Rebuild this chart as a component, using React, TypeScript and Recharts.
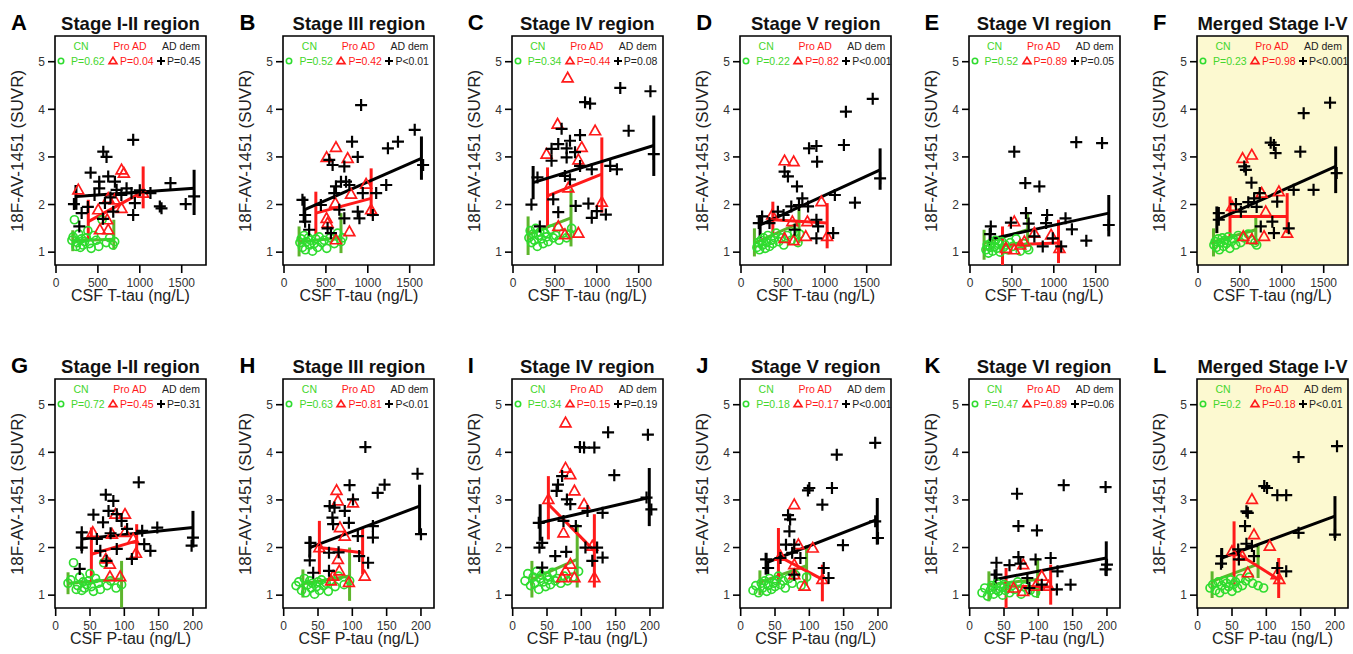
import React from 'react';
import { ScatterChart, Scatter, XAxis, YAxis, ReferenceLine, ReferenceArea, CartesianGrid } from 'recharts';

type P = [number, number];
type Fit = [number, number, number, number, number, number, number, number];

// ---------- shared CN x values (same subjects in all regions) ----------
const cnTtauX = [190, 205, 220, 240, 255, 270, 290, 305, 320, 340, 360, 380, 400, 420, 450, 480, 510, 550, 600, 640, 680, 700];
const cnPtauX = [18, 22, 26, 30, 32, 35, 38, 40, 42, 45, 48, 50, 52, 55, 58, 62, 65, 70, 75, 80, 88, 96];

// CN SUVR per region
const cnY_I_II = [1.25, 1.32, 1.68, 1.12, 1.2, 1.38, 1.1, 1.28, 1.15, 1.22, 1.3, 1.45, 1.18, 1.08, 1.35, 1.25, 1.12, 1.68, 1.2, 1.3, 1.15, 1.22];
const cnY_III = [1.2, 1.28, 1.1, 1.35, 1.05, 1.22, 1.3, 1.15, 1.25, 1.02, 1.18, 1.28, 1.1, 1.32, 1.2, 1.25, 1.08, 1.3, 1.18, 1.4, 1.22, 1.3];
const cnY_IV = [1.3, 1.45, 1.2, 1.38, 1.25, 1.5, 1.12, 1.35, 1.42, 1.28, 1.18, 1.4, 1.32, 1.22, 1.48, 1.3, 1.35, 1.25, 1.4, 1.3, 1.38, 1.5];
const cnY_V = [1.1, 1.2, 1.05, 1.25, 1.15, 1.3, 1.08, 1.2, 1.35, 1.12, 1.25, 1.18, 1.3, 1.4, 1.22, 1.3, 1.15, 1.35, 1.25, 1.42, 1.2, 1.38];
const cnY_VI = [1.05, 1.15, 0.98, 1.1, 1.2, 1.02, 1.12, 1.25, 1.08, 1.18, 1.0, 1.22, 1.1, 1.15, 1.05, 1.2, 1.12, 1.28, 1.02, 1.18, 1.1, 1.05];
const cnY_Merged = [1.15, 1.22, 1.1, 1.28, 1.05, 1.2, 1.3, 1.12, 1.25, 1.18, 1.32, 1.08, 1.22, 1.28, 1.15, 1.35, 1.2, 1.3, 1.38, 1.25, 1.2, 1.15];

// ---------- T-tau panels ----------
const A_ad: P[] = [[921,3.36],[564,3.11],[603,3.0],[413,2.67],[516,2.48],[623,2.59],[703,2.48],[516,2.34],[723,2.31],[214,2.01],[306,1.82],[278,1.54],[842,2.34],[901,2.24],[941,2.03],[921,1.78],[1127,2.24],[1239,1.96],[1259,1.92],[1366,2.45],[1548,2.01],[1648,2.17],[683,1.85],[584,2.03],[460,2.2],[650,2.15],[780,2.2],[1000,2.3],[380,1.95],[560,1.7]];
const A_pro: P[] = [[266,2.31],[782,2.73],[810,2.66],[623,2.13],[782,1.92],[504,1.89],[611,1.68],[524,1.47],[623,1.47],[1040,2.24],[700,2.1]];
const A_fitCN: Fit = [200,1.24,1.02,1.46, 690,1.27,1.05,1.68];
const A_fitPro: Fit = [385,1.64,1.26,2.10, 1040,2.27,1.92,2.8];
const A_fitAD: Fit = [238,2.17,1.89,2.41, 1648,2.34,1.78,2.73];

const B_ad: P[] = [[920,4.09],[1560,3.57],[1360,3.32],[1240,3.18],[1660,2.83],[812,3.32],[880,3.0],[540,2.94],[580,2.83],[720,2.8],[680,2.48],[740,2.48],[780,2.41],[620,2.38],[600,2.24],[940,2.24],[1100,2.24],[1220,2.41],[220,2.1],[252,1.78],[252,1.64],[440,1.99],[660,1.89],[880,1.85],[900,1.71],[1060,1.78],[720,1.71],[520,1.5],[300,1.47],[560,1.4]];
const B_pro: P[] = [[620,3.2],[508,2.99],[760,2.97],[980,2.43],[800,2.22],[612,2.03],[508,1.71],[520,1.61],[1040,1.89],[780,1.43],[620,1.26]];
const B_fitCN: Fit = [180,1.22,0.91,1.54, 680,1.3,0.98,1.82];
const B_fitPro: Fit = [380,1.82,1.33,2.27, 1040,2.13,1.75,2.76];
const B_fitAD: Fit = [240,1.89,1.61,2.17, 1640,2.97,2.52,3.43];

const C_ad: P[] = [[1280,4.45],[1640,4.38],[1380,3.55],[860,4.15],[920,4.12],[580,3.59],[680,3.34],[540,3.27],[460,3.17],[640,3.18],[740,3.1],[800,3.46],[640,2.99],[460,2.92],[800,2.81],[940,2.74],[1160,2.81],[1240,2.74],[1680,3.06],[620,2.6],[680,2.53],[292,2.57],[220,2.0],[480,2.11],[540,1.84],[748,1.97],[900,2.02],[940,1.72],[1000,1.86],[1108,1.79],[320,1.54]];
const C_pro: P[] = [[652,4.66],[532,3.69],[980,3.55],[820,3.2],[400,3.06],[780,2.94],[660,2.35],[1060,2.05],[540,1.54],[620,1.37],[780,1.4]];
const C_fitCN: Fit = [180,1.37,0.94,1.75, 692,1.72,1.12,2.32];
const C_fitPro: Fit = [412,2.18,1.51,2.78, 1060,2.64,1.83,3.41];
const C_fitAD: Fit = [240,2.46,2.11,2.81, 1680,3.24,2.6,3.87];

const D_ad: P[] = [[1572,4.22],[1252,3.95],[1228,3.25],[812,3.18],[900,3.23],[908,2.9],[520,2.69],[560,2.59],[668,2.38],[1120,2.2],[1360,2.04],[1660,2.55],[732,2.13],[692,1.99],[600,1.96],[800,1.96],[252,1.75],[212,1.61],[440,1.85],[508,1.78],[340,1.61],[900,1.68],[920,1.54],[900,1.29],[1100,1.4],[640,1.47]];
const D_pro: P[] = [[520,2.92],[628,2.9],[960,2.06],[372,1.78],[612,1.64],[792,1.64],[772,1.33],[520,1.29],[628,1.24],[1028,1.33]];
const D_fitCN: Fit = [160,1.19,0.91,1.5, 692,1.61,1.19,1.92];
const D_fitPro: Fit = [380,1.68,1.33,2.06, 1028,1.61,1.08,2.03];
const D_fitAD: Fit = [228,1.57,1.29,1.78, 1660,2.73,2.31,3.18];

const E_ad: P[] = [[528,3.11],[1268,3.31],[1576,3.29],[660,2.45],[828,2.38],[668,1.82],[920,1.78],[1140,1.71],[908,1.61],[1216,1.48],[1388,1.24],[1656,1.57],[248,1.54],[240,1.38],[488,1.62],[768,1.33],[988,1.29],[1088,1.12],[868,1.12],[700,1.6]];
const E_pro: P[] = [[528,1.64],[768,1.4],[968,1.36],[1068,1.08],[428,1.08],[528,1.05],[648,1.22],[600,1.15]];
const E_fitCN: Fit = [168,1.19,0.84,1.47, 688,1.47,1.12,1.82];
const E_fitPro: Fit = [388,1.15,0.70,1.54, 1056,1.19,0.77,1.68];
const E_fitAD: Fit = [240,1.27,1.05,1.5, 1656,1.82,1.33,2.2];

const F_ad: P[] = [[1576,4.14],[1261,3.92],[867,3.3],[906,3.25],[926,3.08],[1221,3.11],[552,2.8],[571,2.73],[638,2.46],[737,2.24],[1142,2.31],[1379,2.31],[1655,2.66],[945,2.06],[670,2.13],[453,2.01],[248,1.82],[248,1.68],[512,1.85],[749,1.54],[887,1.64],[906,1.4],[1083,1.5],[600,2.05],[700,1.95]];
const F_pro: P[] = [[532,2.97],[642,3.04],[760,2.24],[965,2.27],[406,1.96],[808,1.85],[540,1.33],[642,1.27],[788,1.33],[1064,1.4]];
const F_fitCN: Fit = [185,1.22,0.91,1.5, 690,1.47,1.15,1.75];
const F_fitPro: Fit = [382,1.75,1.33,2.17, 1064,1.75,1.4,2.24];
const F_fitAD: Fit = [225,1.68,1.4,1.96, 1643,2.8,2.24,3.22];

// ---------- P-tau panels ----------
const G_ad: P[] = [[121,3.37],[73,3.11],[84,2.98],[55,2.69],[77,2.77],[89,2.7],[69,2.53],[96,2.56],[148,2.42],[104,2.39],[38,2.32],[126,2.35],[60,2.18],[38,2.0],[65,1.93],[89,1.97],[111,1.76],[138,1.93],[129,2.07],[200,2.21],[198,2.04],[35,1.55],[74,1.72],[80,2.3]];
const G_pro: P[] = [[87,2.7],[101,2.7],[54,2.32],[82,2.28],[101,2.32],[113,2.18],[117,1.88],[73,1.76],[79,1.65],[79,1.39],[94,1.39]];
const G_fitCN: Fit = [18,1.25,1.02,1.48, 96,1.34,0.74,1.72];
const G_fitPro: Fit = [52,1.86,1.23,2.42, 118,2.14,1.79,2.49];
const G_fitAD: Fit = [38,2.18,1.93,2.35, 200,2.42,2.0,2.77];

const H_ad: P[] = [[119,4.11],[195,3.55],[147,3.32],[137,3.15],[96,3.31],[101,3.01],[67,2.87],[74,2.84],[89,2.77],[71,2.63],[72,2.49],[95,2.52],[108,2.24],[130,2.45],[130,2.21],[200,2.28],[39,2.1],[38,1.73],[66,1.89],[66,1.51],[110,1.82],[123,1.68],[43,1.47],[80,1.9]];
const H_pro: P[] = [[77,3.2],[79,2.98],[101,2.94],[82,2.42],[89,2.24],[79,1.75],[81,1.51],[118,1.4],[72,1.4],[69,1.3],[95,1.27],[52,2.0]];
const H_fitCN: Fit = [28,1.24,0.95,1.54, 96,1.4,0.88,2.0];
const H_fitPro: Fit = [52,2.0,1.44,2.56, 115,1.89,1.44,2.42];
const H_fitAD: Fit = [38,2.0,1.79,2.24, 198,2.87,2.28,3.32];

const I_ad: P[] = [[139,4.42],[197,4.37],[98,4.11],[104,4.1],[119,4.1],[148,3.52],[72,3.5],[66,3.32],[64,3.19],[79,3.01],[84,2.91],[195,3.05],[202,2.8],[109,2.77],[131,2.73],[74,2.56],[92,2.45],[38,2.52],[43,2.1],[39,2.0],[62,1.82],[78,1.91],[106,2.0],[123,2.0],[131,1.79],[116,1.72],[43,1.58]];
const I_pro: P[] = [[77,4.62],[77,3.67],[84,3.53],[90,3.19],[104,2.91],[52,3.01],[74,2.31],[116,2.03],[84,1.65],[77,1.51],[72,1.37],[90,1.37],[119,1.37]];
const I_fitCN: Fit = [28,1.33,0.95,1.72, 94,1.75,1.16,2.49];
const I_fitPro: Fit = [52,2.91,2.17,3.5, 119,1.93,1.16,2.7];
const I_fitAD: Fit = [40,2.52,2.14,2.91, 199,3.05,2.45,3.67];

const J_ad: P[] = [[196,4.2],[140,3.95],[100,3.25],[98,3.2],[133,3.25],[119,2.9],[69,2.68],[72,2.59],[71,2.34],[196,2.55],[200,2.2],[149,2.05],[66,2.06],[78,2.06],[37,1.75],[40,1.57],[58,1.78],[75,1.89],[87,1.78],[121,1.57],[128,1.36],[78,1.43]];
const J_pro: P[] = [[78,2.9],[84,2.06],[105,1.99],[58,1.82],[78,1.64],[119,1.33],[78,1.43],[93,1.19]];
const J_fitCN: Fit = [28,1.27,1.0,1.52, 96,1.62,1.2,2.05];
const J_fitPro: Fit = [55,1.82,1.22,2.41, 119,1.33,0.87,1.64];
const J_fitAD: Fit = [37,1.68,1.43,1.89, 199,2.59,2.06,3.04];

const K_ad: P[] = [[69,3.13],[137,3.31],[198,3.27],[71,2.45],[98,2.36],[71,1.8],[74,1.66],[96,1.75],[118,1.78],[128,1.5],[147,1.22],[200,1.64],[198,1.54],[39,1.68],[39,1.43],[58,1.63],[84,1.36],[105,1.22],[127,1.12],[87,1.15]];
const K_pro: P[] = [[78,1.64],[105,1.4],[115,1.19],[78,1.08],[96,1.19],[64,1.15]];
const K_fitCN: Fit = [28,1.22,0.87,1.5, 99,1.33,0.94,1.78];
const K_fitPro: Fit = [53,1.19,0.7,1.57, 118,1.17,0.8,1.64];
const K_fitAD: Fit = [37,1.33,1.08,1.54, 199,1.78,1.4,2.13];

const L_ad: P[] = [[203,4.13],[147,3.9],[97,3.29],[101,3.25],[116,3.1],[129,3.1],[71,2.76],[73,2.73],[69,2.45],[200,2.27],[147,2.31],[35,1.82],[34,1.66],[71,2.08],[79,2.03],[59,1.96],[82,1.82],[116,1.57],[129,1.5],[60,1.75]];
const L_pro: P[] = [[79,3.01],[82,2.27],[105,2.03],[50,1.92],[65,1.82],[73,1.47],[115,1.43],[119,1.33]];
const L_fitCN: Fit = [21,1.29,0.94,1.5, 88,1.65,1.36,2.06];
const L_fitPro: Fit = [53,1.92,1.22,2.55, 118,1.33,0.94,1.78];
const L_fitAD: Fit = [35,1.78,1.57,1.99, 200,2.66,2.2,3.08];

// ---------- labels ----------
const letters = ['A', 'B', 'C', 'D', 'E', 'F', 'G', 'H', 'I', 'J', 'K', 'L'];
const titles = ['Stage I-II region', 'Stage III region', 'Stage IV region', 'Stage V region', 'Stage VI region', 'Merged Stage I-V'];
const pCN = ['P=0.62', 'P=0.52', 'P=0.34', 'P=0.22', 'P=0.52', 'P=0.23', 'P=0.72', 'P=0.63', 'P=0.34', 'P=0.18', 'P=0.47', 'P=0.2'];
const pPro = ['P=0.04', 'P=0.42', 'P=0.44', 'P=0.82', 'P=0.89', 'P=0.98', 'P=0.45', 'P=0.81', 'P=0.15', 'P=0.17', 'P=0.89', 'P=0.18'];
const pAD = ['P=0.45', 'P<0.01', 'P=0.08', 'P<0.001', 'P=0.05', 'P<0.001', 'P=0.31', 'P<0.01', 'P=0.19', 'P<0.001', 'P=0.06', 'P<0.01'];
const tTauTicks = [0, 500, 1000, 1500];
const pTauTicks = [0, 50, 100, 150, 200];
const yTicks = [1, 2, 3, 4, 5];

const cnYByRegion = [cnY_I_II, cnY_III, cnY_IV, cnY_V, cnY_VI, cnY_Merged];
const adSets = [A_ad, B_ad, C_ad, D_ad, E_ad, F_ad, G_ad, H_ad, I_ad, J_ad, K_ad, L_ad];
const proSets = [A_pro, B_pro, C_pro, D_pro, E_pro, F_pro, G_pro, H_pro, I_pro, J_pro, K_pro, L_pro];
const fitCNs = [A_fitCN, B_fitCN, C_fitCN, D_fitCN, E_fitCN, F_fitCN, G_fitCN, H_fitCN, I_fitCN, J_fitCN, K_fitCN, L_fitCN];
const fitPros = [A_fitPro, B_fitPro, C_fitPro, D_fitPro, E_fitPro, F_fitPro, G_fitPro, H_fitPro, I_fitPro, J_fitPro, K_fitPro, L_fitPro];
const fitADs = [A_fitAD, B_fitAD, C_fitAD, D_fitAD, E_fitAD, F_fitAD, G_fitAD, H_fitAD, I_fitAD, J_fitAD, K_fitAD, L_fitAD];

// ---------- style ----------
const FONT = '"Liberation Sans", Arial, Helvetica, sans-serif';
const GREEN = '#2fdc2f';
const GREEN_TXT = '#45d62d';
const GREEN_LINE = '#5db52c';
const RED = '#ff1a1a';
const BLACK = '#000000';
const MERGED_BG = '#fcf9d0';
const PANEL_DX = 228.4;
const ROW_DY = 343;
const FRAME_L = 55;
const FRAME_T = 36;
const FRAME_W = 151;
const FRAME_H = 229;
const Y_DOMAIN: [number, number] = [0.73, 5.54];

const CircleShape = (p: any) => (
  <circle cx={p.cx} cy={p.cy} r={4} fill="none" stroke={GREEN} strokeWidth={1.7} />
);
const TriShape = (p: any) => (
  <polygon
    points={`${p.cx},${p.cy - 5.6} ${p.cx - 5.4},${p.cy + 4} ${p.cx + 5.4},${p.cy + 4}`}
    fill="none"
    stroke={RED}
    strokeWidth={1.7}
  />
);
const PlusShape = (p: any) => (
  <path
    d={`M${p.cx - 6},${p.cy}H${p.cx + 6}M${p.cx},${p.cy - 6}V${p.cy + 6}`}
    stroke={BLACK}
    strokeWidth={2.2}
    fill="none"
  />
);

function fitLines(f: Fit, color: string, key: string) {
  const [x0, y0, l0, h0, x1, y1, l1, h1] = f;
  const common = { stroke: color, strokeWidth: 3, ifOverflow: 'hidden' as const };
  return [
    <ReferenceLine key={key + 'm'} segment={[{ x: x0, y: y0 }, { x: x1, y: y1 }]} {...common} />,
    <ReferenceLine key={key + 'a'} segment={[{ x: x0, y: l0 }, { x: x0, y: h0 }]} {...common} />,
    <ReferenceLine key={key + 'b'} segment={[{ x: x1, y: l1 }, { x: x1, y: h1 }]} {...common} />,
  ];
}

const toPts = (arr: P[]) => arr.map(([x, y]) => ({ x, y }));

function Panel({ idx }: { idx: number }) {
  const row = idx < 6 ? 0 : 1;
  const col = idx % 6;
  const isT = row === 0;
  const merged = col === 5;
  const xDomain: [number, number] = isT ? [-12, 1790] : [-1, 219];
  const cnX = isT ? cnTtauX : cnPtauX;
  const cnY = cnYByRegion[col];
  const cnPts = cnX.map((x, i) => ({ x, y: cnY[i] }));
  const left = col * PANEL_DX;
  const top = row * ROW_DY;
  const fcx = FRAME_L + FRAME_W / 2;
  const legendTextStyle: React.CSSProperties = {
    position: 'absolute',
    fontSize: 10.5,
    lineHeight: '11px',
    whiteSpace: 'nowrap',
    fontFamily: FONT,
  };
  return (
    <div style={{ position: 'absolute', left, top, width: 228, height: 320 }}>
      <div style={{ position: 'absolute', left: 0, top: 0 }}>
        <ScatterChart width={228} height={295} margin={{ top: FRAME_T, right: 22, bottom: 0, left: 0 }}>
          <CartesianGrid horizontal={false} vertical={false} fill={merged ? MERGED_BG : '#ffffff'} fillOpacity={1} />
          <XAxis
            type="number"
            dataKey="x"
            domain={xDomain}
            ticks={isT ? tTauTicks : pTauTicks}
            allowDataOverflow
            interval={0}
            axisLine={false}
            tickLine={{ stroke: '#000', strokeWidth: 1.6 }}
            tickSize={8}
            tickMargin={5}
            height={30}
            tick={{ fontSize: 12, fill: '#333', fontFamily: FONT }}
          />
          <YAxis
            type="number"
            dataKey="y"
            domain={Y_DOMAIN}
            ticks={yTicks}
            allowDataOverflow
            interval={0}
            axisLine={false}
            tickLine={{ stroke: '#000', strokeWidth: 1.6 }}
            tickSize={7}
            tickMargin={3}
            width={FRAME_L}
            tick={{ fontSize: 12, fill: '#333', fontFamily: FONT }}
          />
          <Scatter data={cnPts} shape={CircleShape} isAnimationActive={false} />
          <Scatter data={toPts(proSets[idx])} shape={TriShape} isAnimationActive={false} />
          <Scatter data={toPts(adSets[idx])} shape={PlusShape} isAnimationActive={false} />
          {fitLines(fitCNs[idx], GREEN_LINE, 'g')}
          {fitLines(fitPros[idx], RED, 'r')}
          {fitLines(fitADs[idx], BLACK, 'k')}
          <ReferenceArea
            x1={xDomain[0]}
            x2={xDomain[1]}
            y1={Y_DOMAIN[0]}
            y2={Y_DOMAIN[1]}
            fill="none"
            fillOpacity={0}
            stroke="#000"
            strokeWidth={1.6}
            ifOverflow="visible"
          />
        </ScatterChart>
      </div>
      {/* panel letter */}
      <div style={{ position: 'absolute', left: 11, top: 12, fontSize: 22, lineHeight: '22px', fontWeight: 'bold', fontFamily: FONT, color: '#000' }}>
        {letters[idx]}
      </div>
      {/* title */}
      <div style={{ position: 'absolute', left: fcx - 100, width: 200, top: 13.5, textAlign: 'center', fontSize: 18.5, lineHeight: '19px', fontWeight: 'bold', fontFamily: FONT, color: '#111', whiteSpace: 'nowrap' }}>
        {titles[col]}
      </div>
      {/* y label */}
      <div style={{ position: 'absolute', left: 18 - 100, width: 200, top: FRAME_T + FRAME_H / 2 - 9, textAlign: 'center', fontSize: 17, lineHeight: '18px', fontFamily: FONT, color: '#222', transform: 'rotate(-90deg)', whiteSpace: 'nowrap' }}>
        18F-AV-1451 (SUVR)
      </div>
      {/* x label */}
      <div style={{ position: 'absolute', left: fcx - 100, width: 200, top: 287, textAlign: 'center', fontSize: 16, lineHeight: '17px', fontFamily: FONT, color: '#222', whiteSpace: 'nowrap' }}>
        {isT ? 'CSF T-tau (ng/L)' : 'CSF P-tau (ng/L)'}
      </div>
      {/* legend row 1 */}
      <div style={{ ...legendTextStyle, left: FRAME_L + 26 - 20, width: 40, textAlign: 'center', top: 41, color: GREEN_TXT }}>CN</div>
      <div style={{ ...legendTextStyle, left: FRAME_L + 75 - 25, width: 50, textAlign: 'center', top: 41, color: RED }}>Pro AD</div>
      <div style={{ ...legendTextStyle, left: FRAME_L + 126 - 25, width: 50, textAlign: 'center', top: 41, color: '#222' }}>AD dem</div>
      {/* legend row 2 */}
      <svg style={{ position: 'absolute', left: 0, top: 0, pointerEvents: 'none' }} width={228} height={80}>
        <circle cx={FRAME_L + 6} cy={61} r={2.7} fill="none" stroke={GREEN} strokeWidth={1.6} />
        <polygon points={`${FRAME_L + 58},${57.3} ${FRAME_L + 54},${63.6} ${FRAME_L + 62},${63.6}`} fill="none" stroke={RED} strokeWidth={1.6} />
        <path d={`M${FRAME_L + 102},61H${FRAME_L + 110}M${FRAME_L + 106},57V65`} stroke="#000" strokeWidth={2} />
      </svg>
      <div style={{ ...legendTextStyle, left: FRAME_L + 16, top: 55.5, color: GREEN_TXT }}>{pCN[idx]}</div>
      <div style={{ ...legendTextStyle, left: FRAME_L + 65, top: 55.5, color: RED }}>{pPro[idx]}</div>
      <div style={{ ...legendTextStyle, left: FRAME_L + 112, top: 55.5, color: '#222' }}>{pAD[idx]}</div>
    </div>
  );
}

export default function App() {
  return (
    <div style={{ position: 'absolute', left: 0, top: 0, width: 1353, height: 654, overflow: 'hidden', background: '#fff', fontFamily: FONT }}>
      {letters.map((_, i) => (
        <Panel key={i} idx={i} />
      ))}
    </div>
  );
}
